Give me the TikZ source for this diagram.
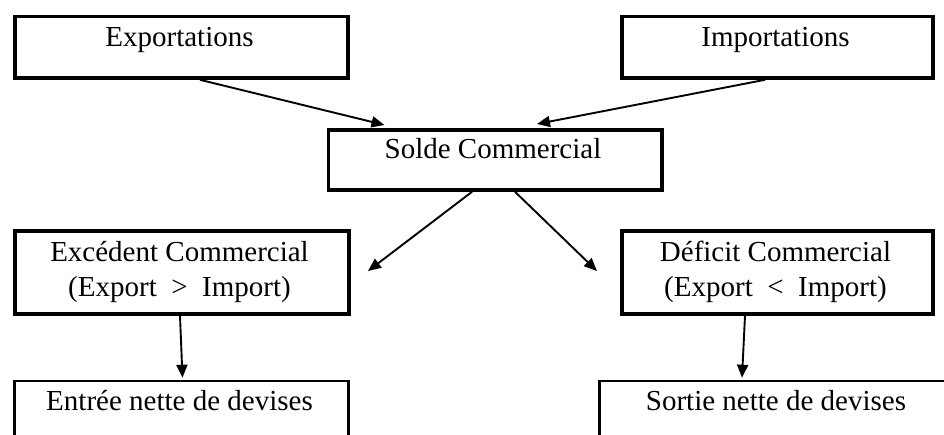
\documentclass[tikz,border=0pt]{standalone}
\usepackage{fontspec}
\setmainfont{Liberation Serif}
\usetikzlibrary{arrows.meta,calc}
\begin{document}
\begin{tikzpicture}[x=1pt,y=-1pt,
  boxbase/.style={draw=black, fill=white, inner sep=0pt, anchor=north west},
  thickbox/.style={boxbase, line width=3.8pt},
  thinbox/.style={boxbase, line width=2.6pt},
  lbl/.style={anchor=base, inner sep=0pt, font=\fontsize{29}{35}\selectfont, align=center},
  conn/.style={line width=1.9pt, -{Triangle[length=13pt,width=11pt]}}
]
\useasboundingbox (0,0) rectangle (944,434);
\clip (0,0) rectangle (944,434);
\fill[white] (0,0) rectangle (944,434);

% boxes
\node[thickbox, minimum width=333pt, minimum height=61.5pt] (exp) at (13,14.5) {};
\node[thickbox, minimum width=311pt, minimum height=61.5pt] (imp) at (620,14.5) {};
\node[thickbox, minimum width=333.5pt, minimum height=60pt] (solde) at (326.5,128) {};
\node[thickbox, minimum width=334pt, minimum height=83pt] (exc) at (13,229) {};
\node[thickbox, minimum width=311pt, minimum height=83pt] (def) at (620,229) {};
\node[thinbox, minimum width=334pt, minimum height=80pt] (ent) at (13,379.7) {};
\node[thinbox, minimum width=356pt, minimum height=80pt] (sor) at (598,379.7) {};

% labels
\node[lbl] (expt) at (179.5,46) {Exportations};
\node[lbl] (impt) at (775.5,46) {Importations};
\node[lbl] (soldet) at (493,158.3) {Solde Commercial};
\node[lbl] (exct1) at (179.5,261.7) {Excédent Commercial};
\node[lbl] (exct2) at (179.5,296.7) {(Export~~>~~Import)};
\node[lbl] (deft1) at (775.5,261.7) {Déficit Commercial};
\node[lbl] (deft2) at (775.5,296.7) {(Export~~<~~Import)};
\node[lbl] (entt) at (179.5,410) {Entrée nette de devises};
\node[lbl] (sort) at (776,410) {Sortie nette de devises};

% free ends
\coordinate (excin) at (368,271);
\coordinate (defin) at (597,271);

% connectors
\draw[conn] ($(exp.south west)+(187,0)$) -- ($(solde.north west)+(58,-3)$);
\draw[conn] ($(imp.south west)+(145,0)$) -- ($(solde.north west)+(210.5,-4)$);
\draw[conn] ($(solde.south west)+(145.5,0)$) -- (excin);
\draw[conn] ($(solde.south west)+(188.5,0)$) -- (defin);
\draw[conn] ($(exc.south west)+(167,0)$) -- ($(ent.north west)+(169.5,-2)$);
\draw[conn] ($(def.south west)+(125,0)$) -- ($(sor.north west)+(144,-2)$);
\end{tikzpicture}
\end{document}
